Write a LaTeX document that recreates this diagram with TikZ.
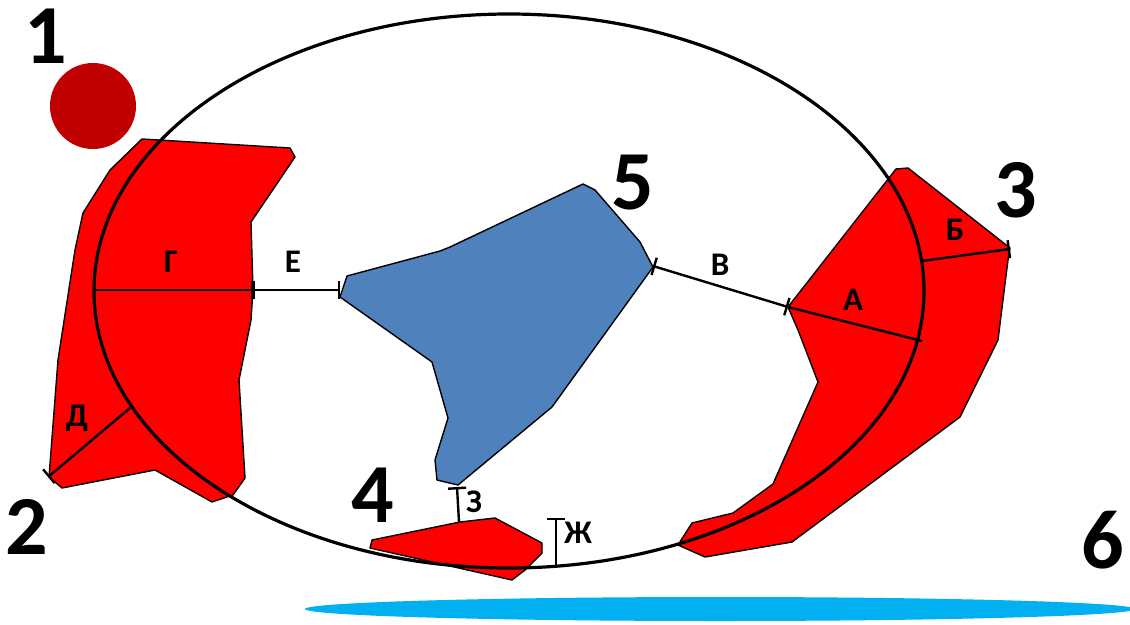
\documentclass[tikz,border=0pt]{standalone}
\usepackage{fontspec}
\setmainfont{Carlito}
\usetikzlibrary{arrows.meta}
\definecolor{zonered}{HTML}{FF0000}
\definecolor{sun}{HTML}{C00000}
\definecolor{blob}{HTML}{4F81BD}
\definecolor{water}{HTML}{00B0F0}
\begin{document}
\begin{tikzpicture}[x=1pt,y=-1pt,
  zone/.style={fill=zonered, draw=black, line width=1.4pt, line join=round},
  landmass/.style={fill=blob, draw=black, line width=1.4pt, line join=round},
  orbit/.style={draw=black, line width=3.2pt},
  meas/.style={draw=black, line width=2.4pt},
  barend/.style={-{Bar[width=18pt,line width=2.4pt]}},
  barboth/.style={{Bar[width=18pt,line width=2.4pt]}-{Bar[width=18pt,line width=2.4pt]}},
  big/.style={font=\fontsize{84}{84}\selectfont\bfseries, inner sep=0pt},
  lab/.style={font=\fontsize{33}{33}\selectfont\bfseries, inner sep=0pt}]
\useasboundingbox (0,0) rectangle (1130,624);
\clip (0,0) rectangle (1130,624);

% water
\fill[water] (720,609) ellipse [x radius=415pt, y radius=12pt];
% sun
\fill[sun] (93,106) circle [radius=43pt];

% zone 2 (left)
\draw[zone] (142,139) -- (290,148) -- (295,157) -- (251,222) -- (253,290) -- (251,320)
  -- (239,380) -- (245,478) -- (233,495) -- (212,502) -- (155,470) -- (62,488)
  -- (49,477) -- (58,360) -- (75,250) -- (83,213) -- (110,170) -- cycle;
% zone 3 (right)
\draw[zone] (896,169) -- (908,168) -- (1010,248) -- (1008,260) -- (998,340) -- (960,417)
  -- (792,542) -- (705,557) -- (678,545) -- (692,523) -- (733,513) -- (773,484)
  -- (818,382) -- (798,330) -- (788,307) -- cycle;
% zone 4 (bottom)
\draw[zone] (372,540) -- (370,548) -- (512,580) -- (525,570) -- (542,553) -- (542,543)
  -- (495,518) -- (460,522) -- cycle;
% landmass 5
\draw[landmass] (583,184) -- (595,190) -- (640,242) -- (653,267) -- (552,407) -- (458,485)
  -- (437,480) -- (435,460) -- (448,418) -- (432,362) -- (340,297) -- (347,276)
  -- (440,251) -- (450,247) -- cycle;

% orbit
\draw[orbit] (509,291) ellipse [x radius=415pt, y radius=277pt];

% measurement points
\coordinate (gL) at (94,290);
\coordinate (gR) at (253,290);
\coordinate (eR) at (340,290);
\coordinate (dIn) at (130,408);
\coordinate (dOut) at (48,477);
\coordinate (vL) at (653,266);
\coordinate (vR) at (788,307);
\coordinate (aR) at (922,341);
\coordinate (bIn) at (922,261);
\coordinate (bOut) at (1010,249);
\coordinate (zTop) at (457,487);
\coordinate (zBot) at (459,522);
\coordinate (zhTop) at (556,518);
\coordinate (zhBot) at (556,567);

\draw[meas, barend] (gL) -- (gR);
\draw[meas, barboth] (gR) -- (eR);
\draw[meas, barend] (dIn) -- (dOut);
\draw[meas, barboth] (vL) -- (vR);
\draw[meas] (vR) -- (aR);
\draw[meas, barend] (bIn) -- (bOut);
\draw[meas, barend] (zBot) -- (zTop);
\draw[meas, barend] (zhBot) -- (zhTop);

% letter labels
\node[lab] (lG) at (171,262) {Г};
\node[lab] (lE) at (293,262) {Е};
\node[lab] (lV) at (720,265) {В};
\node[lab] (lA) at (853,300) {А};
\node[lab] (lB) at (955,230) {Б};
\node[lab] (lD) at (77,418) {Д};
\node[lab] (lZ) at (474,502) {З};
\node[lab] (lZh) at (578,533) {Ж};

% numbers
\node[big] (n1) at (46,36) {1};
\node[big] (n2) at (27,527) {2};
\node[big] (n3) at (1016,190) {3};
\node[big] (n4) at (373,495) {4};
\node[big] (n5) at (633,183) {5};
\node[big] (n6) at (1103,540) {6};
\end{tikzpicture}
\end{document}
